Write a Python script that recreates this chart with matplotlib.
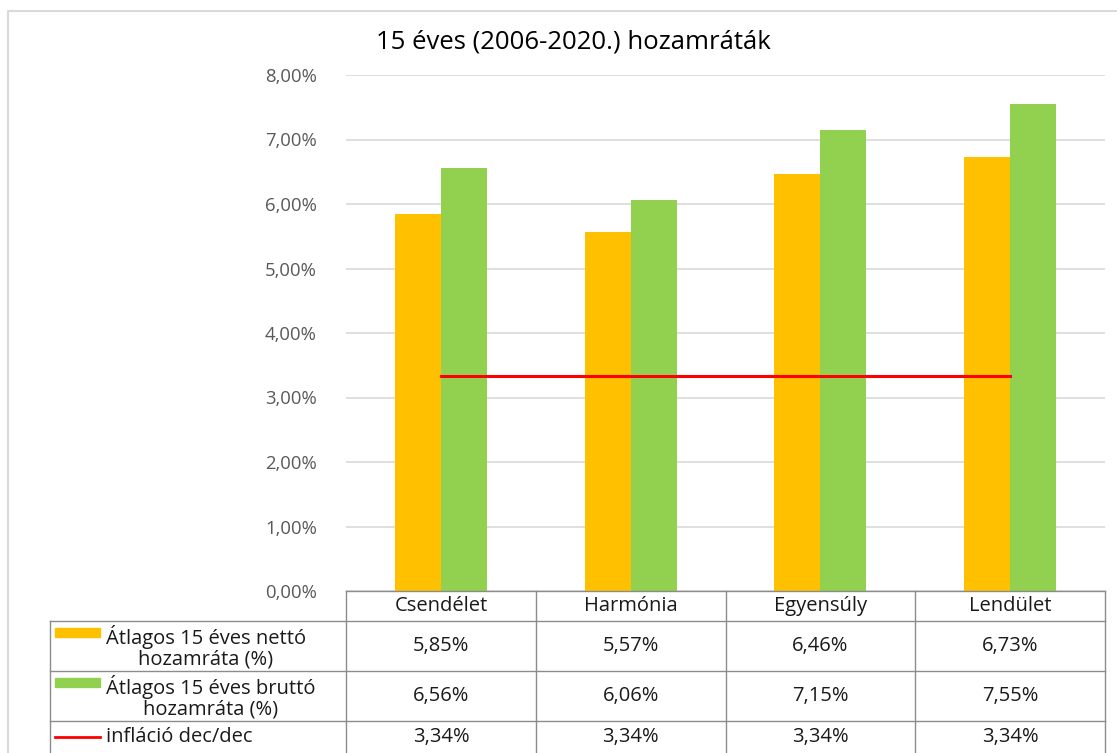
import matplotlib
matplotlib.use("Agg")
import matplotlib.pyplot as plt
from matplotlib.patches import Rectangle

plt.rcParams['font.family'] = ['Open Sans', 'DejaVu Sans']

categories = ["Csendélet", "Harmónia", "Egyensúly", "Lendület"]
netto = [5.85, 5.57, 6.46, 6.73]
brutto = [6.56, 6.06, 7.15, 7.55]
inflacio = [3.34, 3.34, 3.34, 3.34]
series_names = ["Átlagos 15 éves nettó\nhozamráta (%)",
                "Átlagos 15 éves bruttó\nhozamráta (%)",
                "infláció dec/dec"]
yticks = [0, 1, 2, 3, 4, 5, 6, 7, 8]

ORANGE = "#FFC000"
GREEN = "#92D050"
RED = "#FF0000"
GRID = "#D9D9D9"

W, H = 1117, 753
fig = plt.figure(figsize=(W / 100, H / 100), dpi=100)

# plot area in pixels
L, R, T, B = 346, 1105, 75, 591
ax = fig.add_axes([L / W, 1 - B / H, (R - L) / W, (B - T) / H])

n = len(categories)
x = list(range(n))
bw = 0.243
ax.bar([i - bw / 2 for i in x], netto, width=bw, color=ORANGE, zorder=2)
ax.bar([i + bw / 2 for i in x], brutto, width=bw, color=GREEN, zorder=2)
ax.plot(x, inflacio, color=RED, lw=2.2, zorder=3)

ax.set_xlim(-0.5, n - 0.5)
ax.set_ylim(0, 8)
ax.set_yticks(yticks)
ax.set_yticklabels([f"{v:.2f}%".replace(".", ",") for v in yticks],
                   fontsize=13.3, color="#595959")
ax.tick_params(axis="y", length=0, pad=21)
ax.set_xticks([])
ax.grid(axis="y", color=GRID, lw=1.2, zorder=0)
for s in ax.spines.values():
    s.set_visible(False)

fig.text(573 / W, 1 - 42 / H, "15 éves (2006-2020.) hozamráták",
         ha="center", va="center", fontsize=18.5, color="#000000")

# overlay axes in pixel coordinates for the data table and frame
ov = fig.add_axes([0, 0, 1, 1])
ov.set_xlim(0, W)
ov.set_ylim(H, 0)
ov.axis("off")

# chart frame
ov.plot([8, 8, 1140], [H + 5, 11, 11], color=GRID, lw=1.5, clip_on=False)

col_w = (R - L) / n
cols = [L + i * col_w for i in range(n + 1)]
rows = [591, 621, 671, 721, 756]
tc = "#8C8C8C"
ov.plot([L, R], [rows[0], rows[0]], color=tc, lw=1)
for yy in rows[1:4]:
    ov.plot([50, R], [yy, yy], color=tc, lw=1)
for xx in cols:
    ov.plot([xx, xx], [rows[0], H + 5], color=tc, lw=1)
ov.plot([50, 50], [rows[1], H + 5], color=tc, lw=1)

txt = "#1A1A1A"
fs = 14.5
for i, c in enumerate(categories):
    ov.text((cols[i] + cols[i + 1]) / 2, (rows[0] + rows[1]) / 2, c,
            ha="center", va="center", fontsize=fs, color=txt)

table_data = [netto, brutto, inflacio]
for r, vals in enumerate(table_data):
    ymid = (rows[r + 1] + rows[r + 2]) / 2 if r < 2 else 737
    for i, v in enumerate(vals):
        ov.text((cols[i] + cols[i + 1]) / 2, ymid,
                f"{v:.2f}%".replace(".", ","),
                ha="center", va="center", fontsize=fs, color=txt)

# legend keys and series names
ov.add_patch(Rectangle((55, 628), 45, 9, color=ORANGE))
ov.add_patch(Rectangle((55, 678), 45, 9, color=GREEN))
ov.plot([55, 100], [737, 737], color=RED, lw=2)
ov.text(106, 647, series_names[0], ha="left", va="center", fontsize=fs,
        color=txt, linespacing=1.05, multialignment="center")
ov.text(106, 697, series_names[1], ha="left", va="center", fontsize=fs,
        color=txt, linespacing=1.05, multialignment="center")
ov.text(106, 737, series_names[2], ha="left", va="center", fontsize=fs,
        color=txt)

fig.savefig("out.png", dpi=100)
